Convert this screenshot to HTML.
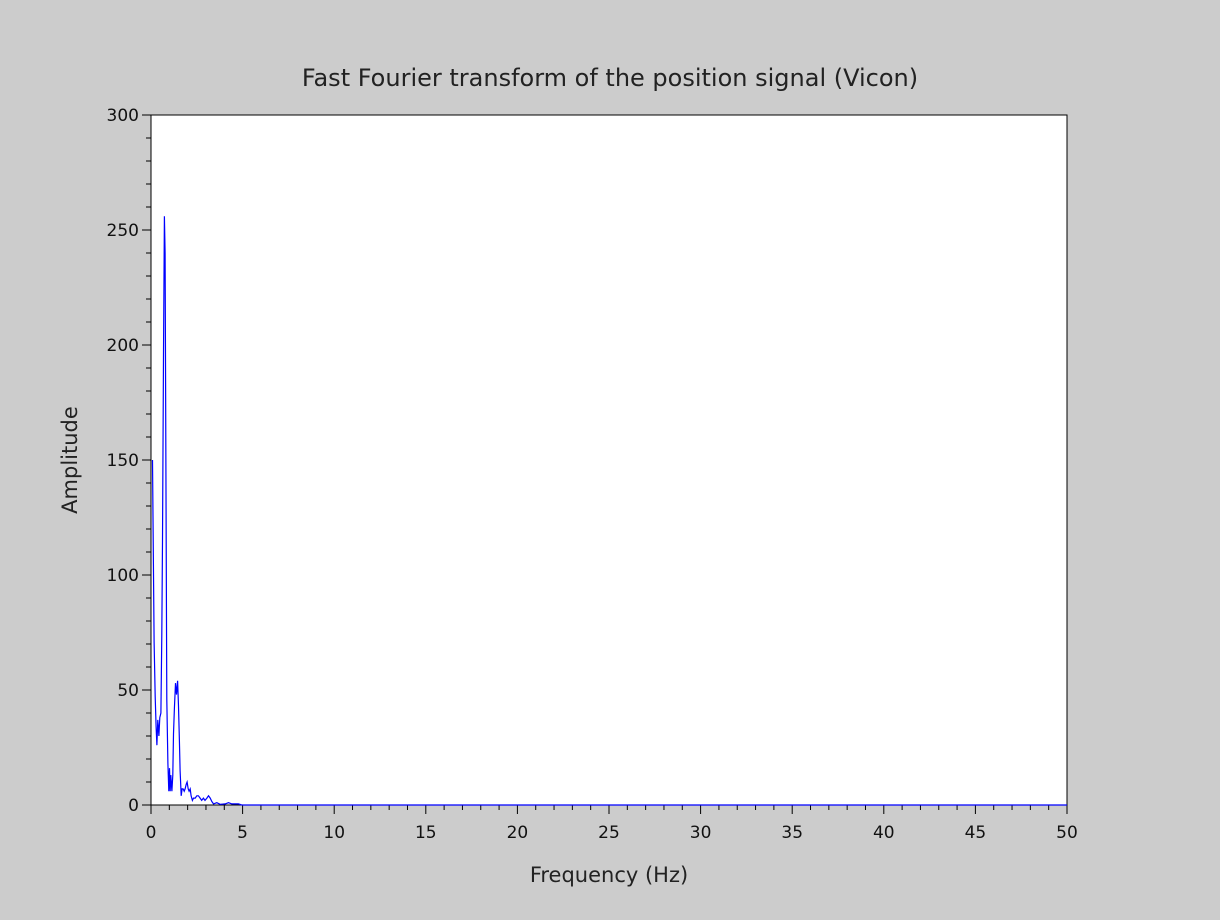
<!DOCTYPE html>
<html><head><meta charset="utf-8"><style>
body{margin:0;background:#cccccc;}
svg{display:block;font-family:"DejaVu Sans","Liberation Sans",sans-serif;}
</style></head><body>
<svg id="chart" width="1220" height="920">
<rect x="0" y="0" width="1220" height="920" fill="#cccccc"/>
<rect x="151" y="115" width="916" height="690" fill="#fff" stroke="#000" stroke-width="1"/>
<text x="610" y="86" text-anchor="middle" font-size="24" fill="#222">Fast Fourier transform of the position signal (Vicon)</text>
<text x="609" y="882" text-anchor="middle" font-size="21" fill="#222">Frequency (Hz)</text>
<text transform="translate(77,460) rotate(-90)" text-anchor="middle" font-size="21" fill="#222">Amplitude</text>
<g id="axes"></g>
<g id="series"></g>
</svg>
<script>
const freqs=[0.08,0.17,0.23,0.28,0.32,0.37,0.43,0.48,0.54,0.59,0.63,0.68,0.73,0.77,0.83,0.86,0.92,0.97,1.01,1.05,1.08,1.14,1.19,1.23,1.28,1.34,1.39,1.45,1.50,1.55,1.59,1.65,1.7,1.75,1.81,1.86,1.92,1.97,2.03,2.08,2.14,2.19,2.26,2.32,2.41,2.5,2.59,2.68,2.77,2.86,2.95,3.05,3.14,3.23,3.32,3.41,3.59,3.77,4.05,4.23,4.41,4.59,4.77,4.95,50];
const amps=[150,71,47,34,26,37,30,38,40,74,115,196,256,240,113,46,18,6,16,6,13,6,13,31,42,53,48,54,43,28,15,4,7,7,6,7,9,10,7,6,7,4,2,3,3,4,4,3,2,3,2,3,4,3,1.5,0.5,1,0.3,0.5,1,0.5,0.5,0.5,0,0];
const xTicks=[0,5,10,15,20,25,30,35,40,45,50];
const yTicks=[0,50,100,150,200,250,300];
const X0=151,X1=1067,Y0=805,Y1=115;
const xs=v=>X0+(v-0)/(50-0)*(X1-X0);
const ys=v=>Y0-(v-0)/(300-0)*(Y0-Y1);
const NS="http://www.w3.org/2000/svg";
const axes=document.getElementById('axes');
function mk(tag,attrs,parent){const e=document.createElementNS(NS,tag);for(const k in attrs)e.setAttribute(k,attrs[k]);parent.appendChild(e);return e;}
for(let v=0;v<=50;v+=1){const x=xs(v);const major=v%5===0;
 const t=mk('line',{x1:x,x2:x,y1:Y0,y2:Y0+(major?9:5),stroke:'#000'},axes);
 
 }
for(let v=0;v<=300;v+=10){const y=ys(v);const major=v%50===0;
 const t=mk('line',{x1:X0,x2:X0-(major?9:5),y1:y,y2:y,stroke:'#000'},axes);
 
 }
xTicks.forEach(v=>{const t=mk('text',{x:xs(v),y:Y0+33,'text-anchor':'middle','font-size':17,fill:'#111'},axes);t.textContent=v;
 
 });
yTicks.forEach(v=>{const t=mk('text',{x:X0-12,y:ys(v)+6,'text-anchor':'end','font-size':17,fill:'#111'},axes);t.textContent=v;
 
 });
const d=freqs.map((f,i)=>(i?'L':'M')+xs(f).toFixed(1)+','+ys(amps[i]).toFixed(1)).join('');
const p=mk('path',{d:d,fill:'none',stroke:'#0000ff','stroke-width':1.2},document.getElementById('series'));


</script>
</body></html>
